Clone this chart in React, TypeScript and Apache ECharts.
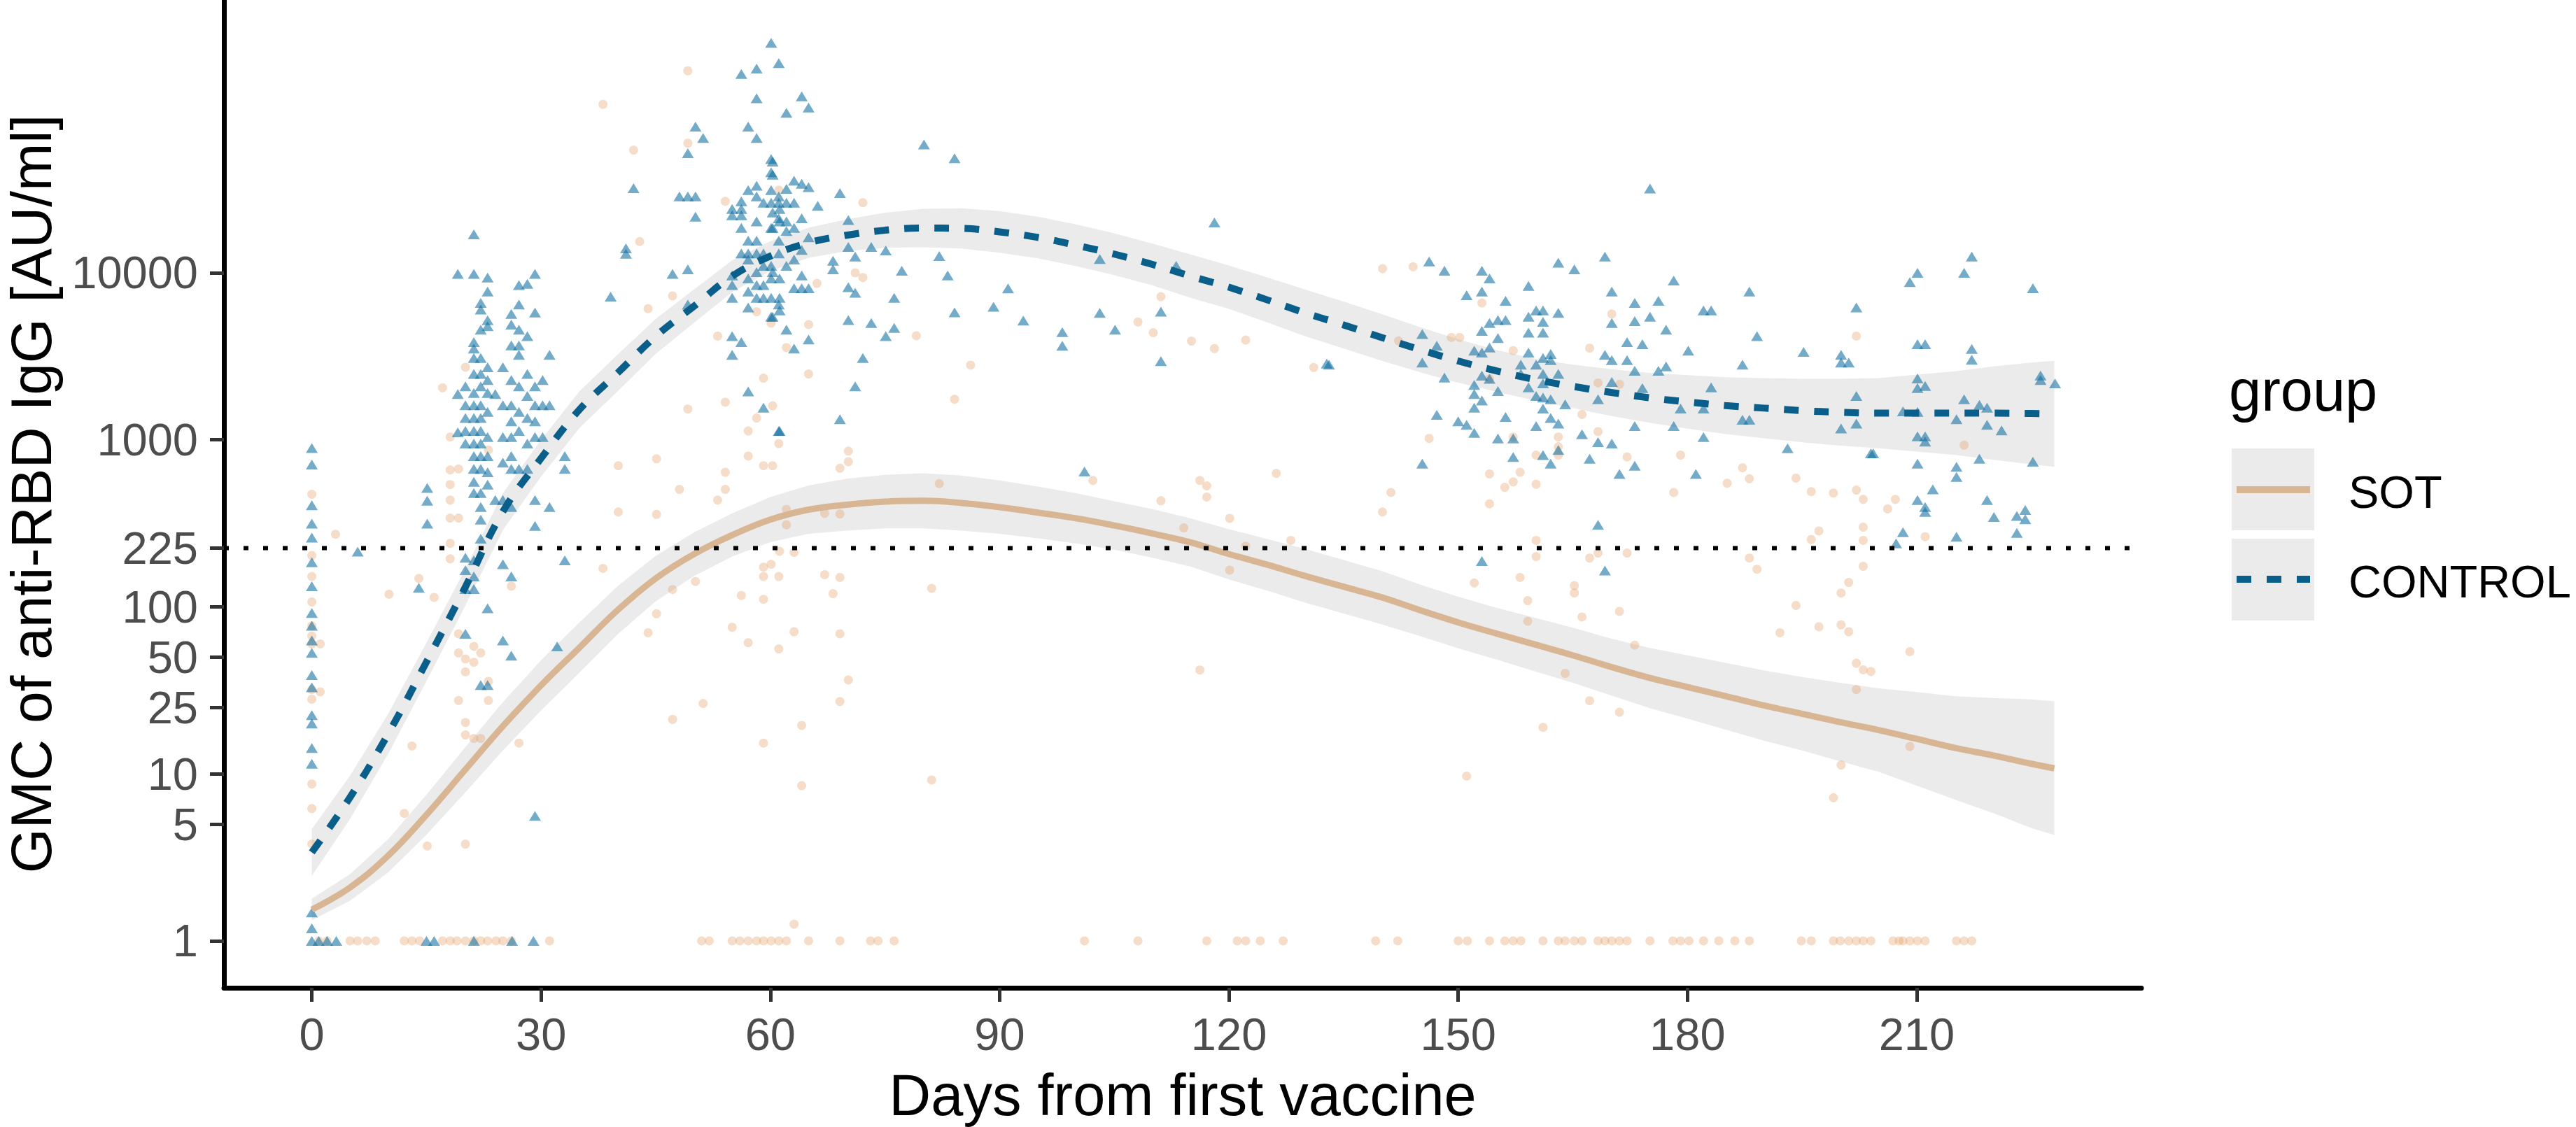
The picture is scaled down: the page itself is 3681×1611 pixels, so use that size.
import React, { useEffect, useRef } from "react";
import * as echarts from "echarts";

const FONT = "'Liberation Sans', Arial, Helvetica, sans-serif";

// axis ranges
const X_MIN = -11.5;
const X_MAX = 239.4;
const Y_MIN = 0.524;
const Y_MAX = 430000;
const xTicks = [0, 30, 60, 90, 120, 150, 180, 210];
const yTicks = [1, 5, 10, 25, 50, 100, 225, 1000, 10000];
const threshold = 225;
const groups = ["SOT", "CONTROL"];

// fitted smooth curves (loess) with confidence bands
const curveDays = [0, 5, 10, 15, 20, 25, 30, 35, 40, 45, 50, 55, 60, 65, 70, 75, 80, 85, 90, 95, 100, 105, 110, 115, 120, 125, 130, 135, 140, 145, 150, 155, 160, 165, 170, 175, 180, 185, 190, 195, 200, 205, 210, 215, 220, 225, 228];
const controlFit = [3.39, 7.24, 17.4, 46.8, 129, 372, 776, 1514, 2512, 4169, 6310, 9550, 12590, 15140, 16790, 17990, 18530, 18450, 17580, 16300, 14620, 12940, 11220, 9550, 8200, 6890, 5750, 4880, 4100, 3470, 2965, 2590, 2300, 2090, 1923, 1786, 1687, 1603, 1549, 1496, 1462, 1445, 1445, 1445, 1445, 1439, 1432];
const controlLower = [2.45, 5.37, 13.2, 35.9, 100, 288, 603, 1175, 1950, 3273, 5012, 7674, 10233, 12303, 13490, 14125, 14223, 13996, 13183, 12200, 10965, 9700, 8414, 7079, 6080, 5050, 4170, 3530, 2970, 2540, 2200, 1940, 1720, 1550, 1390, 1265, 1167, 1084, 1023, 966, 923, 891, 851, 813, 759, 713, 690];
const controlUpper = [4.68, 9.77, 22.9, 61.0, 166, 479, 1000, 1950, 3236, 5309, 7943, 11885, 15488, 18621, 20893, 22909, 24155, 24322, 23442, 21700, 19498, 17250, 14962, 12882, 11060, 9400, 7940, 6730, 5660, 4730, 4000, 3450, 3060, 2820, 2650, 2520, 2438, 2371, 2344, 2317, 2317, 2344, 2455, 2570, 2754, 2904, 2972];
const sotFit = [1.54, 2.09, 3.24, 5.69, 10.5, 19.3, 33.9, 56.9, 95.5, 148, 207, 269, 333, 382, 409, 427, 432, 419, 395, 367, 339, 307, 275, 243, 207, 179, 153, 132, 114, 95.5, 80.7, 69.2, 59.6, 51.3, 43.7, 37.6, 33.1, 29.2, 25.7, 22.9, 20.4, 18.3, 16.2, 14.3, 12.9, 11.5, 10.8];
const sotLower = [1.33, 1.74, 2.57, 4.32, 7.67, 13.8, 24.0, 40.3, 68.4, 108, 153, 200, 244, 274, 286, 295, 295, 286, 274, 257, 240, 220, 197, 174, 146, 125, 106, 91.2, 78.5, 66.8, 56.5, 48.4, 41.2, 35.1, 29.5, 24.8, 21.4, 18.4, 15.8, 13.8, 11.9, 10.3, 8.51, 7.01, 5.82, 4.73, 4.31];
const sotUpper = [1.79, 2.51, 4.07, 7.50, 14.3, 26.9, 47.9, 80.4, 133, 202, 279, 363, 454, 533, 585, 617, 631, 612, 571, 525, 479, 429, 385, 339, 292, 255, 222, 191, 164, 136, 115, 98.9, 86.1, 75.0, 64.6, 56.9, 51.3, 46.2, 41.7, 38.0, 35.1, 32.5, 30.9, 29.2, 28.5, 27.9, 27.2];

// observations: [day, AU/ml]
const controlPoints = [
  [0, 893], [0, 711], [0, 406], [0, 315], [0, 260], [0, 185], [0, 133], [0, 92], [0, 77], [0, 63], [0, 53], [0, 39], [0, 33], [0, 22.5], [0, 20], [0, 14.3], [0, 11.5], [0, 1.48], [0, 1.19],
  [6, 214], [14, 130], [15.1, 515], [15.1, 432], [15.1, 315], [29.2, 5.6], [32.1, 58], [22.1, 34],
  [19.1, 9860], [21.2, 17000], [21.2, 9860], [23.0, 9370], [23.0, 7730], [22.1, 6600], [22.1, 6030], [23.0, 5200], [23.0, 4790], [22.1, 4570],
  [21.2, 3850], [21.2, 3520], [21.2, 3090], [21.2, 2480], [22.1, 3090], [22.1, 2480], [22.1, 2090], [23.0, 2720], [23.0, 2280],
  [20.1, 2090], [20.1, 1610], [20.1, 1350], [20.1, 1130], [20.1, 950], [19.1, 1880], [19.1, 1110],
  [21.2, 1910], [21.2, 1610], [21.2, 1350], [21.2, 1130], [21.2, 950], [21.2, 800], [21.2, 670], [21.2, 560], [21.2, 480],
  [22.1, 1610], [22.1, 1350], [22.1, 1130], [22.1, 950], [22.1, 800], [22.1, 670], [22.1, 480], [22.1, 396], [22.1, 333],
  [23.0, 1910], [23.0, 1470], [23.0, 1040], [23.0, 800], [23.0, 640], [23.0, 540], [24.0, 1880], [24.0, 436],
  [25.0, 2720], [25.0, 1610], [25.0, 1040], [25.0, 730], [25.0, 436],
  [26.1, 5680], [26.1, 4900], [26.1, 3680], [26.1, 2280], [26.1, 1610], [26.1, 1290], [26.1, 1040], [26.1, 800], [26.1, 670], [26.1, 396],
  [27.1, 8440], [27.1, 6470], [27.1, 4570], [27.1, 3680], [27.1, 3230], [27.1, 2090], [27.1, 1470], [27.1, 1130], [27.1, 670],
  [28.2, 8580], [28.2, 4180], [28.2, 2480], [28.2, 1830], [28.2, 1350], [28.2, 950], [28.2, 670],
  [29.2, 9860], [29.2, 5780], [29.2, 2090], [29.2, 1610], [29.2, 1290], [29.2, 1040], [29.2, 436], [29.2, 305],
  [30.2, 2280], [30.2, 1610], [30.2, 1040], [31.1, 3230], [31.1, 1610], [31.1, 396], [33.1, 800], [33.1, 670], [33.1, 190],
  [20.1, 197], [20.1, 166], [20.1, 128], [20.1, 69], [21.2, 190], [21.2, 152], [21.2, 128], [22.1, 256], [23.0, 98], [23.0, 34], [25.0, 180], [25.0, 63], [26.1, 152], [26.1, 51],
  [39.1, 7200], [41.1, 14000], [41.1, 13000], [42.1, 32100], [47.2, 9860], [49.2, 10500], [48.1, 28700], [49.2, 28700], [49.2, 52000],
  [50.2, 28700], [50.2, 21700], [50.2, 75000], [51.2, 64100], [49.2, 6470],
  [56.2, 155000], [58.2, 167000], [58.2, 111000], [60.1, 238000], [61.1, 180000], [57.1, 75000], [58.2, 64100], [60.1, 48000], [60.1, 40000],
  [55.0, 24100], [55.0, 22100], [55.0, 9650], [55.0, 8440], [55.0, 7080], [55.0, 4180], [55.0, 3230],
  [56.2, 26800], [56.2, 24100], [56.2, 22100], [56.2, 18600], [56.2, 13070], [56.2, 3850],
  [57.1, 31300], [57.1, 15600], [57.1, 13070], [57.1, 12000], [57.1, 9250], [57.1, 7730], [57.1, 6200],
  [58.2, 33200], [58.2, 28700], [58.2, 20300], [58.2, 15600], [58.2, 13070], [58.2, 10100], [58.2, 8440], [58.2, 7080],
  [59.1, 26300], [59.1, 13070], [59.1, 11000], [59.1, 8440], [59.1, 7080],
  [60.1, 31300], [60.1, 26300], [60.1, 18600], [60.1, 11000], [60.1, 9250], [60.1, 7080], [60.1, 5460],
  [61.1, 28700], [61.1, 26300], [61.1, 21200], [61.1, 15600], [61.1, 13070], [61.1, 6470],
  [57.1, 1950], [59.1, 1560], [61.1, 1130],
  [60.3, 46300], [60.3, 38700], [60.3, 23000], [60.3, 18600], [60.3, 10100], [60.3, 5460],
  [61.2, 24100], [61.2, 20300], [61.2, 9250], [61.2, 7080], [61.2, 5960],
  [62.1, 31800], [62.1, 26300], [62.1, 20300], [62.1, 17800], [62.1, 11000], [62.1, 4570],
  [63.1, 35600], [63.1, 26300], [63.1, 18600], [63.1, 12000], [63.1, 8080], [63.1, 3520],
  [64.1, 34100], [64.1, 21200], [64.1, 13700], [64.1, 9650], [64.1, 8080],
  [65.0, 32600], [65.0, 16300], [65.0, 8080], [65.0, 3990],
  [64.1, 114000], [65.0, 97500], [62.1, 90800], [80.1, 58700], [84.1, 48500], [69.1, 30000], [66.2, 25200],
  [70.2, 20700], [70.2, 14300], [71.1, 12500], [71.1, 7600], [71.1, 2090], [73.2, 14300], [73.2, 5000], [75.1, 13600], [75.1, 4180],
  [76.2, 7080], [76.2, 4680], [77.2, 10300], [82.1, 12600], [83.2, 9650], [84.1, 5800], [72.1, 3090], [69.1, 1330], [61.2, 1130],
  [68.2, 11800], [68.2, 10500], [70.2, 8210], [70.2, 5220], [89.2, 6270], [91.1, 8070], [93.1, 5180], [98.2, 4420], [98.2, 3660],
  [101.1, 646], [103.1, 12100], [103.1, 5750], [105.1, 4570], [111.1, 5850], [111.1, 2960], [113.1, 11000], [118.1, 20000], [132.8, 2860],
  [133.1, 2820], [145.3, 4300], [145.3, 2900], [145.3, 720], [146.2, 11700], [147.2, 3660], [147.2, 1410], [148.2, 10300], [148.2, 2360],
  [150.0, 1290], [151.1, 7340], [151.1, 1230], [152.1, 3420], [152.1, 2130], [152.1, 1880], [152.1, 1560], [152.1, 1100],
  [153.1, 10300], [153.1, 7730], [153.1, 4490], [153.1, 3330], [153.1, 2420], [153.1, 1720], [153.1, 188],
  [154.1, 9250], [154.1, 5000], [154.1, 3570], [154.1, 2320], [155.2, 5220], [155.2, 4070], [155.2, 1960], [155.2, 1020],
  [156.2, 6800], [156.2, 5220], [156.2, 1370], [157.2, 1020], [157.2, 790], [158.2, 2820], [158.2, 2480],
  [159.2, 8350], [159.2, 5460], [159.2, 4380], [159.2, 3330], [159.2, 2060], [160.2, 5960], [160.2, 2820], [160.2, 1830], [160.2, 1210],
  [161.1, 5960], [161.1, 5090], [161.1, 4380], [161.1, 3090], [161.1, 2480], [161.1, 2180], [161.1, 1790], [161.1, 1540], [161.1, 810],
  [162.1, 3270], [162.1, 3000], [162.1, 1750], [162.1, 1350], [162.1, 720], [163.1, 11500], [163.1, 5750], [163.1, 2480], [163.1, 1250], [163.1, 870],
  [164.0, 1630], [165.2, 10500], [166.2, 1080], [167.2, 770], [168.3, 1750], [168.3, 970], [168.3, 310], [169.2, 12500], [169.2, 3230], [169.2, 165],
  [170.1, 7730], [170.1, 5000], [170.1, 3000], [170.1, 2220], [170.1, 950], [171.1, 625], [172.1, 3850], [172.1, 3000],
  [173.1, 6600], [173.1, 5140], [173.1, 2590], [173.1, 1210], [173.1, 700], [174.1, 3740], [174.1, 2040], [175.1, 32000], [175.1, 5460],
  [176.2, 6800], [176.2, 2590], [177.2, 4570], [177.2, 2750], [178.2, 9000], [178.2, 1210], [179.1, 1540], [180.1, 3420], [181.1, 625],
  [182.1, 5960], [182.1, 1540], [182.1, 1040], [183.1, 5960], [183.1, 2060], [187.2, 2820], [187.2, 1320], [188.1, 7730], [188.1, 1320],
  [189.1, 4180], [193.1, 890], [195.2, 3360], [200.1, 3230], [200.1, 2900], [200.1, 1170], [201.1, 2900], [202.1, 6200], [202.1, 1830], [202.1, 1250], [204.0, 830],
  [204.3, 830], [207.3, 240], [208.2, 1480], [208.2, 280], [209.1, 8810], [210.1, 10000], [210.1, 3740], [210.1, 2330], [210.1, 2040], [210.1, 1470],
  [210.1, 1050], [210.1, 720], [210.1, 436], [211.1, 3740], [211.1, 2100], [211.1, 1050], [211.1, 976], [211.1, 396], [211.1, 370], [212.1, 505],
  [215.2, 1330], [215.2, 690], [215.2, 600], [215.2, 263], [216.2, 10000], [216.2, 1750], [217.2, 12500], [217.2, 3500], [217.2, 3020],
  [218.2, 1620], [218.2, 770], [219.2, 1560], [219.2, 1230], [219.2, 436], [220.1, 345], [221.1, 1140], [223.1, 350], [223.1, 277],
  [224.2, 380], [224.2, 335], [225.2, 8080], [225.2, 740], [226.2, 2430], [226.2, 2280], [228.1, 2180],
];
const controlFloorDays = [0, 0.9, 2, 3.2, 15, 16, 21.2, 26.2, 29];

const sotPoints = [
  [0, 472], [0, 203], [0, 152], [0, 107], [0, 77], [0, 67], [0, 60], [0, 32], [0, 28], [0, 8.7], [0, 6.2], [0, 3.8], [1.1, 60], [1.1, 31],
  [3.1, 272], [10.1, 119], [12.1, 5.8], [13.1, 14.7], [14, 148], [15.1, 3.7], [16, 114], [17.1, 2050],
  [18.1, 1040], [18.1, 660], [18.1, 540], [18.1, 436], [18.1, 340], [18.1, 240], [18.1, 194],
  [19.2, 670], [19.2, 340], [19.2, 69], [19.2, 53], [19.2, 27.5],
  [20.1, 2720], [20.1, 48.8], [20.1, 40.8], [20.1, 20.3], [20.1, 17.1], [20.1, 3.8],
  [21.2, 58], [21.2, 46.6], [21.2, 16.3], [22.1, 53], [22.1, 16.3],
  [23.1, 870], [23.1, 35.8], [23.1, 27.5], [26.1, 133], [27.1, 15.3],
  [38.1, 102000], [38.1, 170], [40.1, 700], [40.1, 370], [42.1, 54300], [42.9, 15400], [44, 6100], [44, 70],
  [45.1, 770], [45.1, 358], [45.1, 91], [47.2, 7280], [47.2, 127], [47.2, 21.2], [48.1, 505],
  [49.2, 162000], [49.2, 59700], [49.2, 1530], [50.2, 142], [51.2, 26.4], [53.1, 4180], [53.1, 436],
  [54.1, 26800], [54.1, 1680], [54.1, 640], [54.1, 505], [55, 75.5], [56.2, 117],
  [57.1, 1130], [57.1, 800], [57.1, 61], [58.2, 5850], [58.2, 1350],
  [59.1, 2340], [59.1, 700], [59.1, 173], [59.1, 152], [59.1, 111], [59.1, 15.3],
  [60.1, 5000], [60.1, 180], [61.1, 31300], [61.1, 950], [61.1, 152], [61.1, 56],
  [72.1, 26300], [71.1, 10000], [72.1, 9370], [65, 4900], [65, 2480], [66.1, 8650], [62.1, 3570], [79.1, 4200], [86.2, 2800], [84.1, 1750],
  [60.3, 1600], [60.3, 700], [70.2, 856], [70.2, 740], [69.1, 676], [82.1, 547], [67.1, 363], [69.1, 360], [62.1, 383], [62.1, 310],
  [61.2, 215], [63.1, 212], [67.1, 156], [69.1, 150], [68.2, 120], [81.1, 129], [63.1, 71], [69.1, 69], [70.2, 36.5], [69.1, 27.1],
  [64.1, 19.5], [64.1, 8.5], [81.1, 9.2], [63.1, 1.26],
  [102.2, 571], [111.1, 7200], [111.1, 432], [108.1, 5080], [110.1, 4380], [115.1, 3900], [118.1, 3520], [122.2, 3960], [116.2, 571],
  [117.1, 530], [117.1, 455], [114.1, 297], [120.1, 339], [120.1, 166], [116.2, 41.9], [126.2, 630], [128.1, 250], [131.1, 2710], [122.2, 231],
  [140.1, 10600], [140.1, 370], [141.2, 484], [142.2, 3910], [144.1, 10870], [146.2, 1020], [149.1, 4100], [150.2, 4100], [151.1, 9.7],
  [152.1, 139], [153.1, 6600], [154.1, 2320], [154.1, 625], [154.1, 414], [156.1, 520], [157.2, 3420], [157.2, 1040], [157.2, 560],
  [158.1, 640], [158.1, 150], [159.1, 109], [159.1, 82], [160.2, 810], [160.2, 542], [160.2, 250], [160.2, 200], [161.1, 19],
  [163.1, 1040], [163.1, 910], [163.1, 810], [164.0, 40], [165.2, 134], [165.2, 121], [166.2, 1420], [166.2, 87],
  [167.2, 3540], [167.2, 196], [167.2, 27.4], [168.3, 2190], [168.3, 1120], [168.3, 210], [170.1, 5670], [171.1, 2150], [171.1, 94], [171.1, 23.4],
  [172.1, 790], [172.1, 210], [173.1, 59], [178.2, 484], [179.1, 810], [185.2, 550], [187.2, 680], [188.1, 585], [188.1, 196], [189.1, 168],
  [192.1, 70], [194.2, 590], [194.2, 102], [196.2, 490], [196.2, 253], [197.2, 285], [197.2, 76], [199.1, 480], [199.1, 7.2],
  [200.1, 121], [200.1, 78], [200.1, 11.3], [201.1, 140], [201.1, 71], [202.1, 4180], [202.1, 500], [202.1, 46], [202.1, 32],
  [203.0, 440], [203.0, 300], [203.0, 250], [203.0, 175], [203.0, 42], [204.0, 41],
  [206.2, 386], [207.2, 440], [209.1, 54], [209.1, 14.6], [211.1, 263], [216.2, 930],
];
const sotFloorDays = [0.9, 2, 5, 6, 7.2, 8.3, 12.1, 13.1, 14.1, 17.1, 18.1, 19, 20.1, 21.2, 22.1, 23, 24.1, 25, 26.1, 31.1, 51, 52, 55, 56, 57.1, 58.2, 59.1, 60.1, 61.1, 62.1, 65, 69.1, 73.1, 74.1, 76.2, 101.1, 108.1, 117.1, 121.1, 122.2, 124.1, 127.1, 139.2, 142.1, 150, 151.2, 154.1, 156.1, 157.2, 158.2, 161.1, 163.1, 164, 165.2, 166.2, 168.3, 169.2, 170.1, 171.1, 172.1, 175.1, 178.1, 179.1, 180.2, 182.1, 184.1, 186.2, 188.1, 194.9, 196.2, 199.1, 200, 201.1, 202.1, 203, 204, 206.9, 207.7, 208.2, 209.1, 210.1, 211.1, 215.2, 216.2, 217.2];
const floorValue = 1;

const COLORS = {
  sotLine: "#D8B593",
  sotPoint: "rgba(228,160,105,0.45)",
  ctrlLine: "#0A5E8A",
  ctrlPoint: "rgba(13,110,160,0.72)",
  band: "rgba(153,153,153,0.2)",
  keyBg: "#EBEBEB",
  tick: "#4D4D4D",
};

function bandSeries(name: string, lower: number[], upper: number[]) {
  return {
    type: "custom",
    name,
    silent: true,
    clip: true,
    data: [[curveDays[0], lower[0]]],
    renderItem: (_params: any, api: any) => {
      const pts: number[][] = [];
      for (let i = 0; i < curveDays.length; i++) pts.push(api.coord([curveDays[i], upper[i]]));
      for (let i = curveDays.length - 1; i >= 0; i--) pts.push(api.coord([curveDays[i], lower[i]]));
      return { type: "polygon", shape: { points: pts }, style: { fill: COLORS.band } };
    },
  };
}

const fmt = (v: number) => String(Number(Number(v).toPrecision(6)));

export default function App() {
  const ref = useRef<HTMLDivElement>(null);
  useEffect(() => {
    if (!ref.current) return;
    const chart = echarts.init(ref.current, undefined, { renderer: "svg" });
    const sotData = sotPoints.concat(sotFloorDays.map((d) => [d, floorValue]));
    const ctrlData = controlPoints.concat(controlFloorDays.map((d) => [d, floorValue]));
    const option = {
      animation: false,
      backgroundColor: "#FFFFFF",
      textStyle: { fontFamily: FONT },
      grid: { left: 320, top: 0, width: 2740, height: 1412, containLabel: false },
      xAxis: {
        type: "value",
        min: X_MIN,
        max: X_MAX,
        axisLine: { show: true, onZero: false, lineStyle: { color: "#000", width: 7 } },
        axisTick: { show: true, length: 20, lineStyle: { color: "#333", width: 5 }, customValues: xTicks },
        axisLabel: { customValues: xTicks, fontSize: 65, color: COLORS.tick, margin: 34, fontFamily: FONT, formatter: fmt },
        splitLine: { show: false },
      },
      yAxis: {
        type: "log",
        logBase: 10,
        min: Y_MIN,
        max: Y_MAX,
        axisLine: { show: true, onZero: false, lineStyle: { color: "#000", width: 7 } },
        axisTick: { show: true, length: 20, lineStyle: { color: "#333", width: 5 }, customValues: yTicks },
        axisLabel: { customValues: yTicks, fontSize: 65, color: COLORS.tick, margin: 37, fontFamily: FONT, formatter: fmt },
        splitLine: { show: false },
        minorTick: { show: false },
        minorSplitLine: { show: false },
      },
      series: [
        {
          type: "scatter",
          name: groups[0],
          data: sotData,
          symbol: "circle",
          symbolSize: 13,
          itemStyle: { color: COLORS.sotPoint },
          silent: true,
        },
        {
          type: "scatter",
          name: groups[1],
          data: ctrlData,
          symbol: "triangle",
          symbolSize: [17, 14],
          itemStyle: { color: COLORS.ctrlPoint },
          silent: true,
        },
        bandSeries("SOT band", sotLower, sotUpper),
        bandSeries("CONTROL band", controlLower, controlUpper),
        {
          type: "line",
          name: "SOT fit",
          data: curveDays.map((d, i) => [d, sotFit[i]]),
          showSymbol: false,
          symbol: "none",
          smooth: 0.4,
          lineStyle: { color: COLORS.sotLine, width: 9 },
          silent: true,
        },
        {
          type: "line",
          name: "CONTROL fit",
          data: curveDays.map((d, i) => [d, controlFit[i]]),
          showSymbol: false,
          symbol: "none",
          smooth: 0.4,
          lineStyle: { color: COLORS.ctrlLine, width: 10, type: [21, 22], cap: "butt" },
          silent: true,
        },
        {
          type: "line",
          name: "threshold",
          data: [[X_MIN, threshold], [X_MAX, threshold]],
          showSymbol: false,
          symbol: "none",
          lineStyle: { color: "#000", width: 6, type: [7, 21], cap: "butt" },
          silent: true,
        },
      ],
      graphic: [
        {
          type: "text", x: 44, y: 706, rotation: Math.PI / 2,
          style: { text: "GMC of anti-RBD IgG [AU/ml]", fontSize: 82, fontFamily: FONT, fill: "#000", align: "center", verticalAlign: "middle" },
        },
        {
          type: "text", x: 1690, y: 1565,
          style: { text: "Days from first vaccine", fontSize: 83, fontFamily: FONT, fill: "#000", align: "center", verticalAlign: "middle" },
        },
        {
          type: "text", x: 3185, y: 558,
          style: { text: "group", fontSize: 83, fontFamily: FONT, fill: "#000", align: "left", verticalAlign: "middle" },
        },
        { type: "rect", shape: { x: 3189, y: 641, width: 118, height: 117 }, style: { fill: COLORS.keyBg } },
        { type: "rect", shape: { x: 3189, y: 770, width: 118, height: 117 }, style: { fill: COLORS.keyBg } },
        { type: "line", shape: { x1: 3196, y1: 700, x2: 3301, y2: 700 }, style: { stroke: COLORS.sotLine, lineWidth: 10 } },
        { type: "line", shape: { x1: 3196, y1: 828, x2: 3301, y2: 828 }, style: { stroke: COLORS.ctrlLine, lineWidth: 10, lineDash: [21, 22], lineCap: "butt" } },
        {
          type: "text", x: 3356, y: 703,
          style: { text: groups[0], fontSize: 65, fontFamily: FONT, fill: "#000", align: "left", verticalAlign: "middle" },
        },
        {
          type: "text", x: 3356, y: 831,
          style: { text: groups[1], fontSize: 65, fontFamily: FONT, fill: "#000", align: "left", verticalAlign: "middle" },
        },
      ],
    };
    chart.setOption(option as any);
    return () => chart.dispose();
  }, []);
  return (
    <div
      ref={ref}
      style={{ position: "fixed", left: 0, top: 0, width: 3681, height: 1611, background: "#fff" }}
    />
  );
}
